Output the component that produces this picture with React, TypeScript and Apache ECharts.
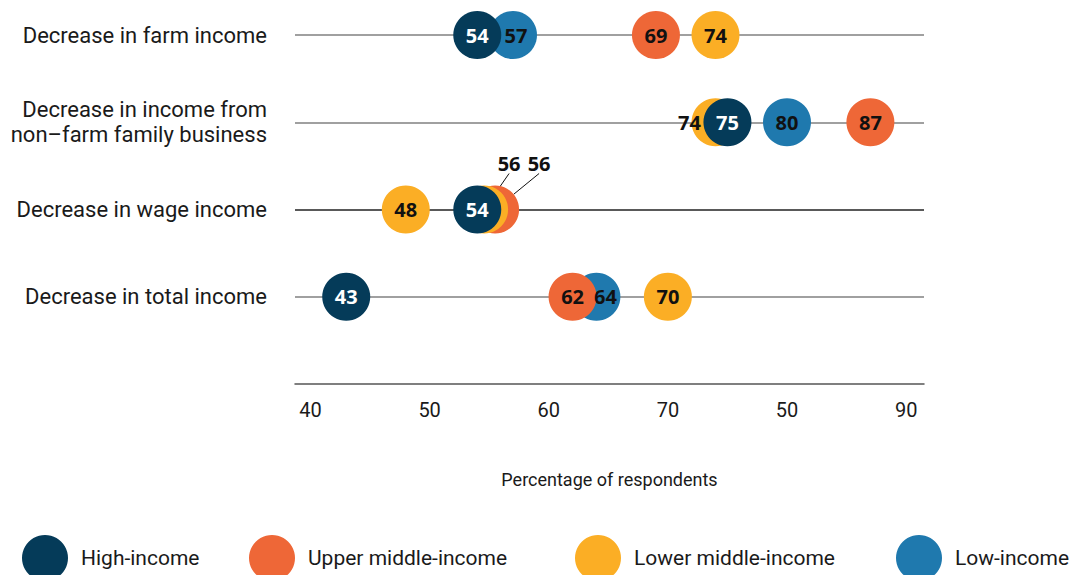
import React, { useEffect, useRef } from "react";
import * as echarts from "echarts";

// Rows, top to bottom
const categories = [
  "Decrease in farm income",
  "Decrease in income from\nnon–farm family business",
  "Decrease in wage income",
  "Decrease in total income",
];

// Percentage of respondents per income group, in the same row order
const highIncome = [54, 75, 54, 43];
const upperMiddleIncome = [69, 87, 56, 62];
const lowerMiddleIncome = [74, 74, 56, 70];
const lowIncome = [57, 80, null, 64];
// Second yellow circle drawn in the wage row
const lowerMiddleIncomeExtra = [null, null, 48, null];

const xTickValues = [40, 50, 60, 70, 80, 90];
const xTickLabels = ["40", "50", "60", "70", "50", "90"];

const axisTitle = "Percentage of respondents";

const COLORS: Record<string, string> = {
  "High-income": "#053B59",
  "Upper middle-income": "#EE6737",
  "Lower middle-income": "#FBAE25",
  "Low-income": "#1F79AE",
};

const NUM_FONT = "'Noto Sans', 'DejaVu Sans', sans-serif";
const TEXT_FONT = "Roboto, 'Liberation Sans', sans-serif";

// label tweaks (style only), keyed by series name + row index
const labelTweaks: Record<string, any> = {
  "Low-income|0": { offset: [3, 0] },
  "Lower middle-income|1": { offset: [-26, 0] },
  "Low-income|3": { offset: [9, 0] },
  "Lower middle-income|2": { offset: [25, -46], symbolOffset: [-17, 0], line: true },
  "Upper middle-income|2": { offset: [44, -46], symbolOffset: [-6, 0], line: true },
};

function rowY(i: number) {
  return categories.length - i;
}

function buildData(name: string, values: (number | null)[], extraKey?: boolean) {
  const out: any[] = [];
  values.forEach((v, i) => {
    if (v == null) return;
    const key = name + "|" + i;
    const tw = extraKey ? undefined : labelTweaks[key];
    const item: any = { value: [v, rowY(i)] };
    if (tw) {
      if (tw.symbolOffset) item.symbolOffset = tw.symbolOffset;
      item.label = { offset: tw.offset };
      if (tw.line) {
        item.labelLine = {
          show: true,
          length2: 0,
          lineStyle: { color: "#111", width: 1 },
        };
      }
    }
    out.push(item);
  });
  return out;
}

function makeSeries(name: string, values: (number | null)[], extra?: (number | null)[]) {
  const dark = name === "High-income";
  let data = buildData(name, values);
  if (extra) data = data.concat(buildData(name, extra, true));
  return {
    name,
    type: "scatter",
    symbol: "circle",
    symbolSize: 48,
    clip: false,
    itemStyle: { color: COLORS[name], opacity: 1 },
    label: {
      show: true,
      position: "inside",
      formatter: (p: any) => String(p.value[0]),
      color: dark ? "#ffffff" : "#111111",
      fontFamily: NUM_FONT,
      fontWeight: "bold",
      fontSize: 20,
    },
    emphasis: { disabled: true },
    data,
  };
}

export default function App() {
  const ref = useRef<HTMLDivElement>(null);

  useEffect(() => {
    document.body.style.margin = "0";
    if (!ref.current) return;
    const chart = echarts.init(ref.current, undefined, { renderer: "svg" });

    const legendNames = ["High-income", "Upper middle-income", "Lower middle-income", "Low-income"];
    const legendLefts = [22, 249, 575, 896];

    const option: any = {
      animation: false,
      backgroundColor: "#ffffff",
      textStyle: { fontFamily: TEXT_FONT },
      grid: { left: 295, right: 155, top: 35, bottom: 191, containLabel: false },
      legend: legendNames.map((n, i) => ({
        data: [n],
        left: legendLefts[i],
        top: 535,
        padding: 0,
        orient: "horizontal",
        icon: "circle",
        itemWidth: 46,
        itemHeight: 46,
        selectedMode: false,
        textStyle: {
          fontFamily: TEXT_FONT,
          fontSize: 21,
          color: "#1a1a1a",
          padding: [0, 0, 0, 8],
        },
      })),
      xAxis: {
        type: "value",
        min: 38.7,
        max: 91.5,
        name: axisTitle,
        nameLocation: "middle",
        nameGap: 86,
        nameTextStyle: { fontFamily: TEXT_FONT, fontSize: 18, color: "#1a1a1a" },
        axisLine: { show: true, lineStyle: { color: "#555555", width: 1.5 } },
        axisTick: { show: false },
        splitLine: { show: false },
        axisLabel: {
          customValues: xTickValues,
          margin: 16,
          fontFamily: TEXT_FONT,
          fontSize: 20,
          color: "#1a1a1a",
          formatter: (v: number) => {
            const idx = xTickValues.indexOf(v);
            return idx >= 0 ? xTickLabels[idx] : "";
          },
        },
      },
      yAxis: {
        type: "value",
        min: 0,
        max: 4,
        interval: 1,
        axisLine: { show: false },
        axisTick: { show: false },
        axisLabel: {
          margin: 28,
          fontFamily: TEXT_FONT,
          fontSize: 22,
          color: "#1a1a1a",
          lineHeight: 25,
          align: "right",
          formatter: (v: number) => {
            const idx = categories.length - v;
            return idx >= 0 && idx < categories.length ? categories[idx] : "";
          },
        },
        splitLine: {
          show: true,
          lineStyle: {
            color: ["rgba(0,0,0,0)", "#808080", "#222222", "#808080", "#808080"],
            width: 1.5,
          },
        },
      },
      series: [
        makeSeries("Low-income", lowIncome),
        makeSeries("Upper middle-income", upperMiddleIncome),
        makeSeries("Lower middle-income", lowerMiddleIncome, lowerMiddleIncomeExtra),
        makeSeries("High-income", highIncome),
      ],
    };

    chart.setOption(option);
    return () => chart.dispose();
  }, []);

  return (
    <div
      ref={ref}
      style={{ position: "fixed", left: 0, top: 0, width: 1079, height: 575 }}
    />
  );
}
